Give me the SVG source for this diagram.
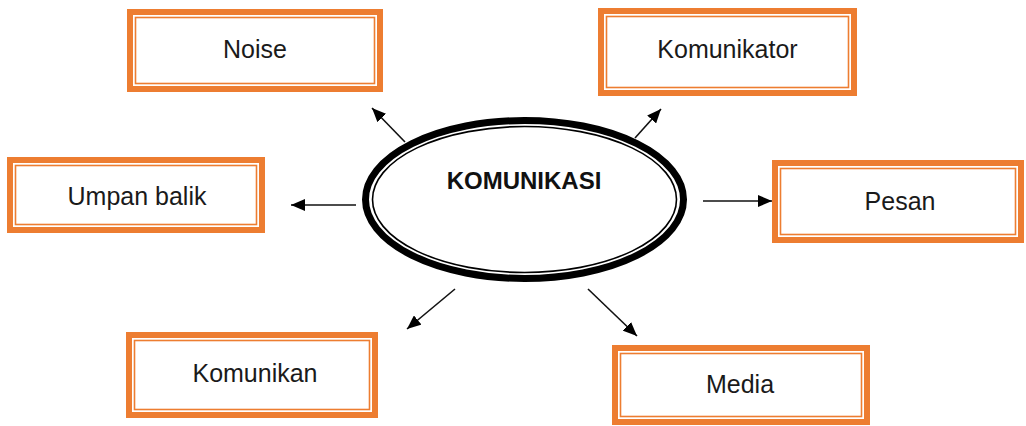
<svg xmlns="http://www.w3.org/2000/svg" width="1026" height="426" viewBox="0 0 1026 426">
  <style>
    .frame { fill: #ffffff; stroke: #ED7D31; stroke-width: 6; }
    .frame-inner { fill: none; stroke: #ED7D31; stroke-width: 1.6; }
    .label { font-family: "Liberation Sans", Arial, sans-serif; font-size: 25px; fill: #1a1a1a; text-anchor: middle; }
    .title { font-family: "Liberation Sans", Arial, sans-serif; font-size: 24px; font-weight: bold; fill: #111111; text-anchor: middle; }
    .link { stroke: #111111; stroke-width: 1.6; fill: none; marker-end: url(#head); }
  </style>
  <defs>
    <marker id="head" viewBox="0 0 14 12" refX="14" refY="6" markerWidth="14" markerHeight="12" markerUnits="userSpaceOnUse" orient="auto">
      <path d="M0,0 L14,6 L0,12 Z" fill="#000000"/>
    </marker>
  </defs>
  <rect width="1026" height="426" fill="#ffffff"/>

  <!-- connectors -->
  <g id="connectors">
    <line class="link" x1="405" y1="142" x2="372" y2="108"/>
    <line class="link" x1="635" y1="138" x2="661" y2="109"/>
    <line class="link" x1="356" y1="205" x2="291" y2="205"/>
    <line class="link" x1="703" y1="201" x2="772" y2="201"/>
    <line class="link" x1="455" y1="289" x2="407" y2="329"/>
    <line class="link" x1="588" y1="289" x2="637" y2="336"/>
  </g>

  <!-- central ellipse -->
  <g id="komunikasi">
    <ellipse cx="524.5" cy="199.5" rx="159" ry="79" fill="#ffffff" stroke="#000000" stroke-width="7"/>
    <ellipse cx="524.5" cy="199.5" rx="152" ry="73" fill="none" stroke="#000000" stroke-width="1.6"/>
    <text class="title" x="524" y="189">KOMUNIKASI</text>
  </g>

  <g id="noise">
    <rect class="frame" x="130" y="12" width="250" height="77"/>
    <rect class="frame-inner" x="135.5" y="17.5" width="239" height="66"/>
    <text class="label" x="255" y="58">Noise</text>
  </g>

  <g id="komunikator">
    <rect class="frame" x="601" y="11" width="253" height="82"/>
    <rect class="frame-inner" x="606.5" y="16.5" width="242" height="71"/>
    <text class="label" x="727.5" y="58">Komunikator</text>
  </g>

  <g id="umpan-balik">
    <rect class="frame" x="10" y="160" width="252" height="70"/>
    <rect class="frame-inner" x="15.5" y="165.5" width="241" height="59"/>
    <text class="label" x="137" y="205">Umpan balik</text>
  </g>

  <g id="pesan">
    <rect class="frame" x="775" y="163" width="246" height="77"/>
    <rect class="frame-inner" x="780.5" y="168.5" width="235" height="66"/>
    <text class="label" x="900" y="210">Pesan</text>
  </g>

  <g id="komunikan">
    <rect class="frame" x="129" y="335" width="246" height="80"/>
    <rect class="frame-inner" x="134.5" y="340.5" width="235" height="69"/>
    <text class="label" x="255" y="382">Komunikan</text>
  </g>

  <g id="media">
    <rect class="frame" x="615" y="348" width="252" height="74"/>
    <rect class="frame-inner" x="620.5" y="353.5" width="241" height="63"/>
    <text class="label" x="740" y="393">Media</text>
  </g>
</svg>
